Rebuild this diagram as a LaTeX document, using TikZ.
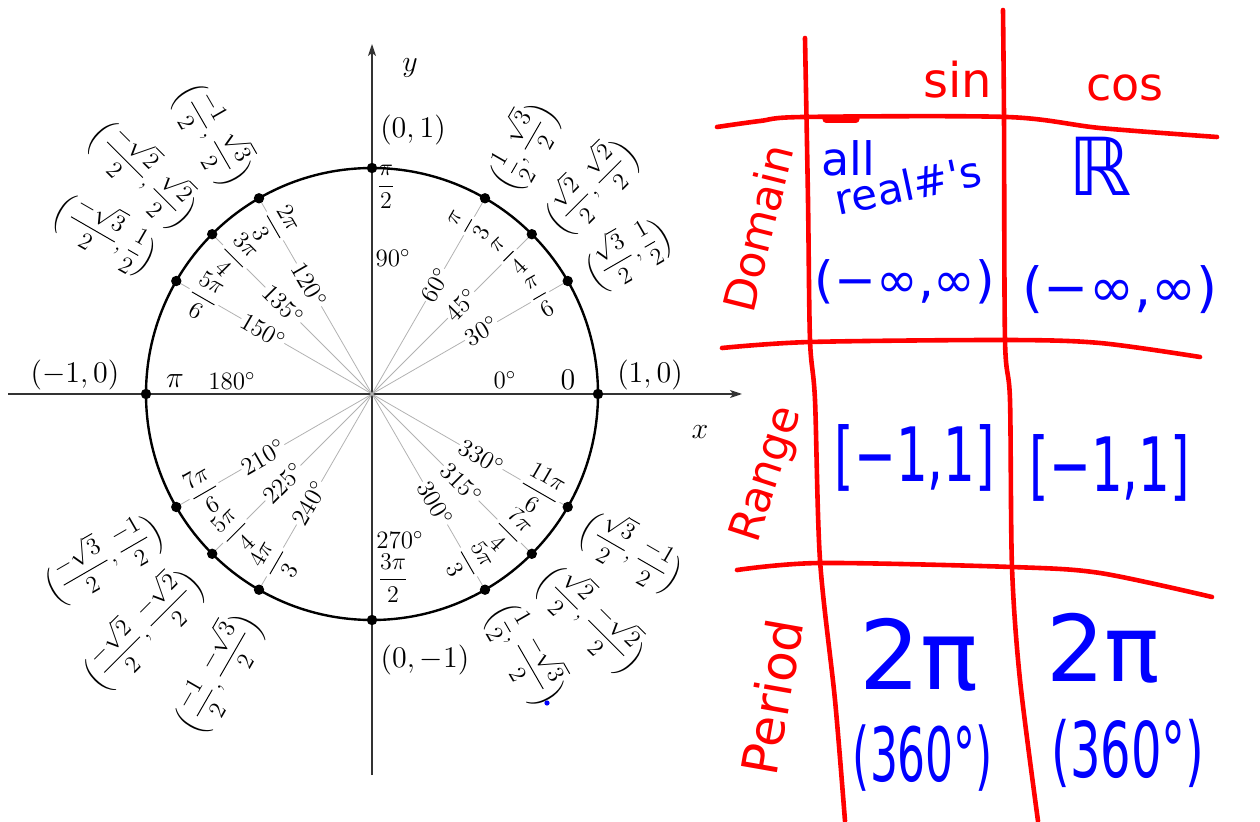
\RequirePackage{fix-cm}
\documentclass[tikz,border=0pt]{standalone}
\usepackage{amsmath,amssymb}
\usepackage{fontspec}
\newfontfamily\hand{DejaVu Sans}
\usetikzlibrary{arrows.meta}
\begin{document}
\begin{tikzpicture}[x=0.5pt,y=0.5pt,
  lbl/.style={font=\fontsize{15}{18}\selectfont, inner sep=1pt},
  frc/.style={font=\fontsize{12}{14}\selectfont, inner sep=1pt},
  deg/.style={font=\fontsize{12.5}{15}\selectfont, inner sep=1pt},
  ray/.style={black!30, line width=0.4pt},
  onray/.style={fill=white, inner sep=0.6pt},
  dot/.style={circle, fill=black, inner sep=0pt, minimum size=5.2pt},
  axis/.style={black!80, line width=0.7pt, -{Stealth[length=6pt,width=4pt,inset=1.5pt]}},
  gridline/.style={red, line width=2.3pt, line cap=round, line join=round},
  hb/.style={text=blue, inner sep=0pt},
  hr/.style={text=red, inner sep=0pt}]
\useasboundingbox (0,0) rectangle (1260,821);
\coordinate (O) at (372,427);
% axes
\coordinate (xl) at (8,427);
\coordinate (xr) at (742,427);
\coordinate (yb) at (372,46);
\coordinate (yt) at (372,777);
\draw[axis] (xl) -- (xr);
\draw[axis] (yb) -- (yt);
\node[lbl] (ylab) at (410,753) {$y$};
\node[lbl] (xlab) at (700,389) {$x$};
% rays and labels
\foreach \a/\rad/\rot in {30/{\dfrac{\pi}{6}}/30, 45/{\dfrac{\pi}{4}}/45, 60/{\dfrac{\pi}{3}}/60,
  120/{\dfrac{2\pi}{3}}/-60, 135/{\dfrac{3\pi}{4}}/-45, 150/{\dfrac{5\pi}{6}}/-30,
  210/{\dfrac{7\pi}{6}}/30, 225/{\dfrac{5\pi}{4}}/45, 240/{\dfrac{4\pi}{3}}/60,
  300/{\dfrac{5\pi}{3}}/-60, 315/{\dfrac{7\pi}{4}}/-45, 330/{\dfrac{11\pi}{6}}/-30}{
  \coordinate (P\a) at ([shift={(\a:226)}]O);
  \draw[ray] (O) -- (P\a);
  \node[deg, onray, rotate=\rot] (d\a) at ([shift={(\a:126)}]O) {$\a^\circ$};
  \node[frc, onray, rotate=\rot] (r\a) at ([shift={(\a:194)}]O) {$\rad$};
}
% circle
\draw[line width=1.2pt] (O) circle (226);
\foreach \a in {0,30,45,60,90,120,135,150,180,210,225,240,270,300,315,330}{
  \node[dot] (D\a) at ([shift={(\a:226)}]O) {};
}
% axis point labels
\node[lbl] (c90) at (413,691) {$(0,1)$};
\node[lbl] (c0) at (650,446) {$(1,0)$};
\node[lbl] (c180) at (75,446) {$(-1,0)$};
\node[lbl] (c270) at (425,161) {$(0,-1)$};
\node[frc] (r90) at (386,634) {$\dfrac{\pi}{2}$};
\node[deg] (d90) at (393,563) {$90^\circ$};
\node[lbl] (r0) at (568,441) {$0$};
\node[deg] (d0) at (505,441) {$0^\circ$};
\node[lbl] (r180) at (175,440) {$\pi$};
\node[deg] (d180) at (232,440) {$180^\circ$};
\node[deg] (d270) at (400,281) {$270^\circ$};
\node[frc] (r270) at (393,243) {$\dfrac{3\pi}{2}$};
% coordinate labels
\node[frc, rotate=30] (c30) at (627,569) {$\Bigl(\dfrac{\sqrt{3}}{2},\dfrac{1}{2}\Bigr)$};
\node[frc, rotate=45] (c45) at (590,636) {$\Bigl(\dfrac{\sqrt{2}}{2},\dfrac{\sqrt{2}}{2}\Bigr)$};
\node[frc, rotate=60] (c60) at (522,676) {$\Bigl(\dfrac{1}{2},\dfrac{\sqrt{3}}{2}\Bigr)$};
\node[frc, rotate=-60] (c120) at (215,688) {$\Bigl(\dfrac{-1}{2},\dfrac{\sqrt{3}}{2}\Bigr)$};
\node[frc, rotate=-45] (c135) at (145,648) {$\Bigl(\dfrac{-\sqrt{2}}{2},\dfrac{\sqrt{2}}{2}\Bigr)$};
\node[frc, rotate=-30] (c150) at (107,589) {$\Bigl(\dfrac{-\sqrt{3}}{2},\dfrac{1}{2}\Bigr)$};
\node[frc, rotate=30] (c210) at (103,264) {$\Bigl(\dfrac{-\sqrt{3}}{2},\dfrac{-1}{2}\Bigr)$};
\node[frc, rotate=45] (c225) at (142,193) {$\Bigl(\dfrac{-\sqrt{2}}{2},\dfrac{-\sqrt{2}}{2}\Bigr)$};
\node[frc, rotate=60] (c240) at (217,149) {$\Bigl(\dfrac{-1}{2},\dfrac{-\sqrt{3}}{2}\Bigr)$};
\node[frc, rotate=-60] (c300) at (528,168) {$\Bigl(\dfrac{1}{2},\dfrac{-\sqrt{3}}{2}\Bigr)$};
\node[frc, rotate=-45] (c315) at (593,203) {$\Bigl(\dfrac{\sqrt{2}}{2},\dfrac{-\sqrt{2}}{2}\Bigr)$};
\node[frc, rotate=-30] (c330) at (633,271) {$\Bigl(\dfrac{\sqrt{3}}{2},\dfrac{-1}{2}\Bigr)$};
\node[circle, fill=blue, inner sep=0pt, minimum size=2.6pt] (bd) at (547,118) {};
% red table lines
\draw[gridline] plot[smooth] coordinates {(805,783) (808,621) (810,481) (815,421) (820,261) (835,121) (845,0)};
\draw[gridline] plot[smooth] coordinates {(1003,811) (1004,704) (1005,481) (1010,421) (1012,254) (1020,141) (1038,0)};
\draw[gridline] plot[smooth] coordinates {(717,694) (760,700) (803,704) (1007,704) (1100,693) (1217,684)};
\draw[red, line width=3.6pt, line cap=round] (826,702) -- (856,702);
\draw[gridline] plot[smooth] coordinates {(722,473) (810,479) (1007,481) (1100,478) (1200,464)};
\draw[gridline] plot[smooth] coordinates {(737,251) (820,258) (1012,254) (1100,248) (1212,224)};
% red headings
\node[hr, font=\hand\fontsize{24}{28}\selectfont] (hsin) at (958,741) {sin};
\node[hr, font=\hand\fontsize{23}{28}\selectfont] (hcos) at (1125,733) {cos};
\node[hr, font=\hand\fontsize{22}{26}\selectfont, rotate=76] (hdom) at (758,593) {Domain};
\node[hr, font=\hand\fontsize{22}{26}\selectfont, rotate=72] (hran) at (768,346) {Range};
\node[hr, font=\hand\fontsize{25}{28}\selectfont, rotate=80] (hper) at (772,124) {Period};
% blue entries
\node[hb, font=\hand\fontsize{23}{24}\selectfont] (all) at (848,663) {all};
\node[hb, font=\hand\fontsize{21}{24}\selectfont, rotate=12] (real) at (908,636) {real\#'s};
\node[hb, font=\hand\fontsize{40}{44}\selectfont] (RR) at (1100,655) {ℝ};
\node[hb, font=\hand\fontsize{25}{28}\selectfont] (dsin) at (905,539) {(−∞,∞)};
\node[hb, font=\hand\fontsize{27}{30}\selectfont] (dcos) at (1120,531) {(−∞,∞)};
\node[hb, font=\hand\fontsize{25}{28}\selectfont, yscale=1.5] (rsin) at (915,363) {[−1,1]};
\node[hb, font=\hand\fontsize{25}{28}\selectfont, yscale=1.5] (rcos) at (1110,353) {[−1,1]};
\node[hb, font=\hand\fontsize{48}{52}\selectfont] (psin) at (919,166) {2π};
\node[hb, font=\hand\fontsize{46}{50}\selectfont] (pcos) at (1103,173) {2π};
\node[hb, font=\hand\fontsize{22}{26}\selectfont, yscale=1.7] (dgsin) at (923,63) {(360°)};
\node[hb, font=\hand\fontsize{24}{26}\selectfont, yscale=1.6] (dgcos) at (1128,68) {(360°)};
\end{tikzpicture}
\end{document}
